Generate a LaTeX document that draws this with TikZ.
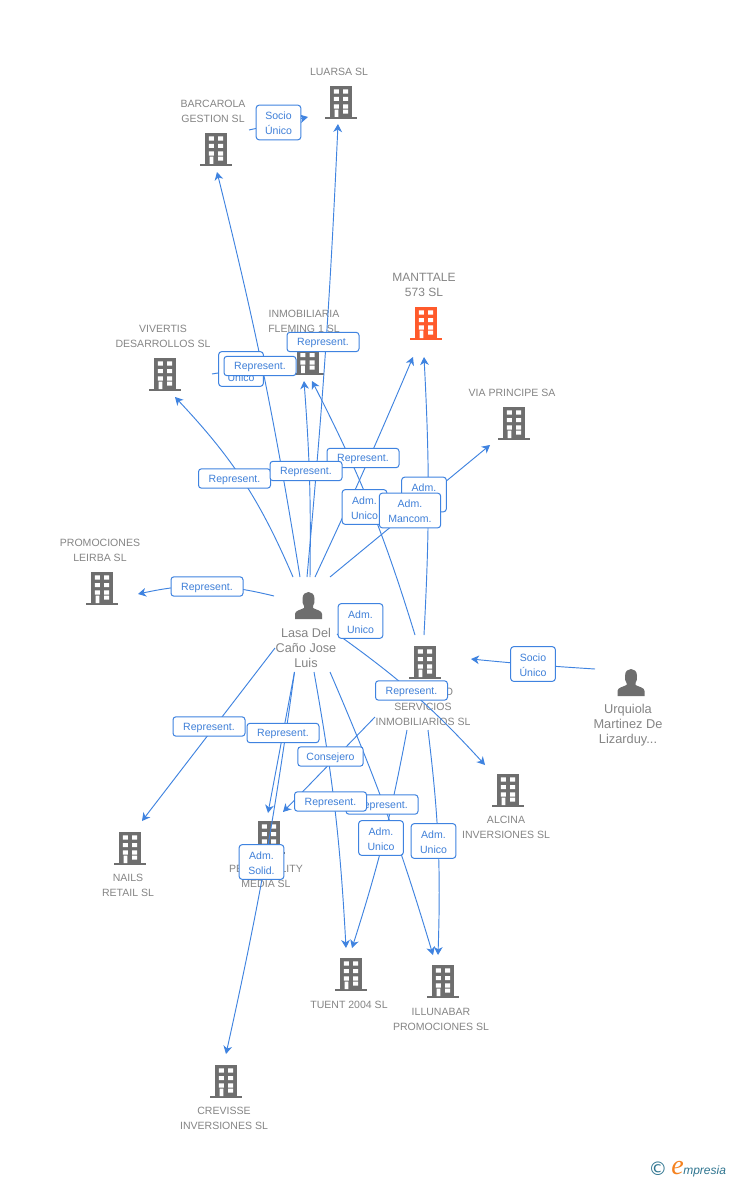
\documentclass[tikz,border=0pt]{standalone}
\usepackage{fontspec}
\setmainfont{Liberation Sans}
\newfontfamily\dejafont{DejaVu Sans}
\newfontfamily\serifit{Liberation Serif}
\usetikzlibrary{arrows.meta}
\definecolor{linkblue}{HTML}{3F83E0}
\definecolor{tagtext}{HTML}{3E7FD8}
\definecolor{iconcol}{HTML}{6E6E6E}
\definecolor{redcol}{HTML}{FF5A2B}
\definecolor{labcol}{HTML}{858585}
\definecolor{logoteal}{HTML}{2F7590}
\definecolor{logoorange}{HTML}{F58220}
\tikzset{
  x=0.75pt,y=-0.75pt,
  pics/bldg/.style={code={
    \fill[#1] (-16,-2) rectangle (16,0);
    \fill[#1] (-11,-33) rectangle (11,-2);
    \fill[white] (-7.2,-29.7) rectangle (-2.2,-25.3) (2.2,-29.7) rectangle (7.2,-25.3)
      (-7.2,-22) rectangle (-2.2,-18) (2.2,-22) rectangle (7.2,-18)
      (-7.2,-14.7) rectangle (-2.2,-10.3) (2.2,-14.7) rectangle (7.2,-10.3)
      (-6.5,-9.3) rectangle (-2.6,-2) (2.2,-9.3) rectangle (7.2,-5.3);
  }},
  pics/pers/.style={code={
    \fill[iconcol] (-13.5,14) -- (-13.5,9) .. controls (-13.5,5.5) and (-8,5) .. (-4.5,3)
      -- (-4.5,1) .. controls (-6,-1) and (-6,-3) .. (-6,-6)
      .. controls (-6,-11) and (-3,-13) .. (0,-13)
      .. controls (3,-13) and (6,-11) .. (6,-6)
      .. controls (6,-3) and (6,-1) .. (4.5,1)
      -- (4.5,3) .. controls (8,5) and (13.5,5.5) .. (13.5,9) -- (13.5,14) -- cycle;
  }},
  icon/.style={inner sep=0pt,minimum width=24pt,minimum height=26pt,anchor=south},
  personicon/.style={inner sep=0pt,minimum width=20pt,minimum height=20pt},
  lab/.style={text=labcol,align=center,inner sep=0pt,yshift=-0.5pt,font=\fontsize{7.9}{11.25}\selectfont},
  labbig/.style={text=labcol,align=center,inner sep=0pt,font=\fontsize{9}{11.25}\selectfont},
  link/.style={draw=linkblue,line width=0.7pt,-{Stealth[length=6pt,width=6.5pt,inset=1.8pt]}},
  tag/.style={draw=linkblue,fill=white,rounded corners=2.2pt,line width=0.75pt,text=tagtext,
    align=center,inner sep=0pt,font=\fontsize{7.9}{11.25}\selectfont},
  tagone/.style={tag,minimum width=54pt,minimum height=14.5pt,text height=7pt,text depth=1.6pt},
  tagtwo/.style={tag,minimum width=33.5pt,minimum height=26pt,text height=18.5pt,text depth=0pt},
}
\begin{document}
\begin{tikzpicture}
\useasboundingbox (0,0) rectangle (728,1180);
\fill[white] (0,0) rectangle (728,1180);
% icons
\node[icon] (luarsa) at (341,119) {}; \pic at (341,119) {bldg=iconcol};
\node[icon] (barcarola) at (216,166) {}; \pic at (216,166) {bldg=iconcol};
\node[icon] (manttale) at (426,340) {}; \pic at (426,340) {bldg=redcol};
\node[icon] (vivertis) at (165,391) {}; \pic at (165,391) {bldg=iconcol};
\node[icon] (fleming) at (307.5,375) {}; \pic at (307.5,375) {bldg=iconcol};
\node[icon] (via) at (514,440) {}; \pic at (514,440) {bldg=iconcol};
\node[icon] (leirba) at (102,605) {}; \pic at (102,605) {bldg=iconcol};
\node[icon] (servicios) at (425,679) {}; \pic at (425,679) {bldg=iconcol};
\node[icon] (alcina) at (508,807) {}; \pic at (508,807) {bldg=iconcol};
\node[icon] (nails) at (130,865) {}; \pic at (130,865) {bldg=iconcol};
\node[icon] (personality) at (269,854) {}; \pic at (269,854) {bldg=iconcol};
\node[icon] (tuent) at (351,991) {}; \pic at (351,991) {bldg=iconcol};
\node[icon] (illunabar) at (443,998) {}; \pic at (443,998) {bldg=iconcol};
\node[icon] (crevisse) at (226,1098) {}; \pic at (226,1098) {bldg=iconcol};
\node[personicon] (lasa) at (308.5,605) {}; \pic at (308.5,605) {pers};
\node[personicon] (urquiola) at (631,682) {}; \pic at (631,682) {pers};
% labels
\node[lab] (tluarsa) at (339,71) {LUARSA SL};
\node[lab] (tbarcarola) at (213,110.5) {BARCAROLA\\GESTION SL};
\node[labbig] (tmanttale) at (424,284.5) {MANTTALE\\573 SL};
\node[lab] (tfleming) at (304,320.5) {INMOBILIARIA\\FLEMING 1 SL};
\node[lab] (tvivertis) at (163,335.5) {VIVERTIS\\DESARROLLOS SL};
\node[lab] (tvia) at (512,392) {VIA PRINCIPE SA};
\node[lab] (tleirba) at (100,549.5) {PROMOCIONES\\LEIRBA SL};
\node[labbig,font=\fontsize{9.5}{11.25}\selectfont] (tlasa) at (306,648) {Lasa Del\\Caño Jose\\Luis};
\node[labbig,font=\fontsize{9.6}{11.25}\selectfont] (turquiola) at (628,725) {Urquiola\\Martinez De\\Lizarduy...};
\node[lab] (tservo) at (449,691) {O};
\node[lab] (tservicios) at (423,713.5) {SERVICIOS\\INMOBILIARIOS SL};
\node[lab] (talcina) at (506,827) {ALCINA\\INVERSIONES SL};
\node[lab] (tnails) at (128,885) {NAILS\\RETAIL SL};
\node[lab] (tpersonality) at (266,875.5) {PERSONALITY\\MEDIA SL};
\node[lab] (ttuent) at (349,1004) {TUENT 2004  SL};
\node[lab] (tillunabar) at (441,1018.5) {ILLUNABAR\\PROMOCIONES SL};
\node[lab] (tcrevisse) at (224,1117.5) {CREVISSE\\INVERSIONES SL};
% connectors
\draw[link] ([shift={(33,-36)}]barcarola.south) -- ([shift={(-33,-2)}]luarsa.south);
\draw[link] ([shift={(-1.5,-28)}]lasa.center) to[bend right=1.3] ([shift={(-3,5)}]luarsa.south);
\draw[link] ([shift={(-8.5,-28)}]lasa.center) to[bend right=2.4] ([shift={(1,6)}]barcarola.south);
\draw[link] ([shift={(-15.5,-28)}]lasa.center) to[bend right=10] ([shift={(10,6)}]vivertis.south);
\draw[link] ([shift={(1.5,-28)}]lasa.center) to[bend right=2.5] ([shift={(-3.5,6)}]fleming.south);
\draw[link] ([shift={(6.5,-28)}]lasa.center) to[bend right=1] ([shift={(-13,17)}]manttale.south);
\draw[link] ([shift={(-1,-44)}]servicios.south) to[bend right=3] ([shift={(-2,17)}]manttale.south);
\draw[link] ([shift={(21.5,-28)}]lasa.center) -- ([shift={(-24,5)}]via.south);
\draw[link] ([shift={(-10,-44)}]servicios.south) to[bend right=5] ([shift={(4.5,6)}]fleming.south);
\draw[link] ([shift={(47,-17)}]vivertis.south) -- ([shift={(-22.5,-13)}]fleming.south);
\draw[link] ([shift={(-34.5,-9)}]lasa.center) to[bend right=13] ([shift={(36,-11)}]leirba.south);
\draw[link] ([shift={(-33.5,43)}]lasa.center) -- ([shift={(12,-44)}]nails.south);
\draw[link] ([shift={(-14,67)}]lasa.center) -- ([shift={(-1,-41)}]personality.south);
\draw[link] ([shift={(-14,67)}]lasa.center) to[bend left=2.3] ([shift={(0,-44)}]crevisse.south);
\draw[link] ([shift={(5.5,67)}]lasa.center) to[bend left=3.5] ([shift={(-5,-43)}]tuent.south);
\draw[link] ([shift={(21.5,67)}]lasa.center) to[bend left=3.3] ([shift={(-10,-43)}]illunabar.south);
\draw[link] ([shift={(28.5,29)}]lasa.center) to[bend left=6] ([shift={(-23,-42)}]alcina.south);
\draw[link] ([shift={(-50,38)}]servicios.south) -- ([shift={(14,-42)}]personality.south);
\draw[link] ([shift={(-18,51)}]servicios.south) to[bend left=3.5] ([shift={(1,-43)}]tuent.south);
\draw[link] ([shift={(3,51)}]servicios.south) to[bend left=4.4] ([shift={(-5,-43)}]illunabar.south);
\draw[link] ([shift={(-36,-13)}]urquiola.center) to[bend left=1] ([shift={(46,-20)}]servicios.south);
% connector labels
\node[tagtwo] (e1) at (278.5,122.5) {Socio\\Único};
\node[tagtwo] (e2) at (241,369) {Socio\\Único};
\node[tagone] (e3) at (260,366) {Represent.};
\node[tagone] (e4) at (323,342) {Represent.};
\node[tagone] (e5) at (363,458) {Represent.};
\node[tagone] (e6) at (234.5,478.5) {Represent.};
\node[tagone] (e7) at (306,471) {Represent.};
\node[tagtwo] (e8) at (424,494.5) {Adm.\\Unico};
\node[tagtwo] (e9) at (364.5,507) {Adm.\\Unico};
\node[tagtwo,minimum width=46pt] (e10) at (410,510.5) {Adm.\\Mancom.};
\node[tagone] (e11) at (207,586.5) {Represent.};
\node[tagtwo] (e12) at (360.5,621) {Adm.\\Unico};
\node[tagtwo] (e13) at (533,664) {Socio\\Único};
\node[tagone] (e14) at (411.5,690.5) {Represent.};
\node[tagone] (e15) at (209,726.5) {Represent.};
\node[tagone] (e16) at (283,733) {Represent.};
\node[tagone,minimum width=49pt] (e17) at (330.5,756.5) {Consejero};
\node[tagone] (e18) at (382,804.5) {Represent.};
\node[tagone] (e19) at (330.5,801.5) {Represent.};
\node[tagtwo] (e20) at (381,838) {Adm.\\Unico};
\node[tagtwo] (e21) at (433.5,841) {Adm.\\Unico};
\node[tagtwo] (e22) at (261.5,862) {Adm.\\Solid.};
% logo
\node[inner sep=0pt,text=logoteal] (copy) at (658,1168.5) {\dejafont\fontsize{14}{14}\selectfont ©};
\node[inner sep=0pt,anchor=base west,text=logoorange] (logoe) at (671,1174) {\serifit\itshape\fontsize{21}{21}\selectfont e};
\node[inner sep=0pt,anchor=base west,text=logoteal] (logot) at (683,1174) {\itshape\fontsize{9}{11}\selectfont mpresia};
\end{tikzpicture}
\end{document}
